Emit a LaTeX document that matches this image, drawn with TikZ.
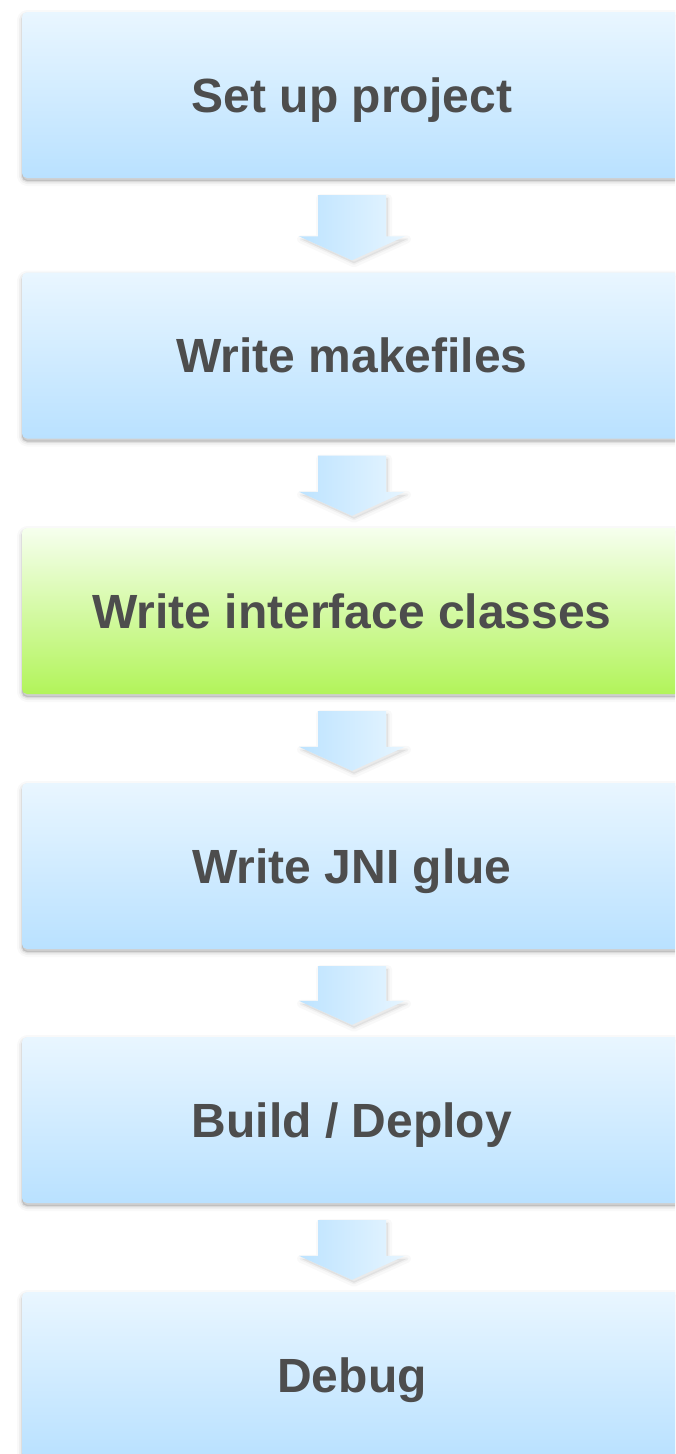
\documentclass[tikz,border=0pt]{standalone}
\usepackage{fontspec}
\setmainfont{Liberation Sans}
\usetikzlibrary{calc,shadows}
\definecolor{txt}{HTML}{4D4D4D}
\definecolor{btop}{HTML}{E9F6FF}
\definecolor{bmid}{HTML}{D8EFFF}
\definecolor{bbot}{HTML}{B9E1FF}
\definecolor{gtop}{HTML}{F6FFEE}
\definecolor{gmid}{HTML}{E2FAC8}
\definecolor{gbot}{HTML}{B2F45A}
\definecolor{aleft}{HTML}{BDE3FF}
\definecolor{aright}{HTML}{E6F5FF}
\tikzset{
  softshadow/.style={
    general shadow={fill=black, draw=black, line join=round, opacity=0.025, line width=10pt, shadow yshift=-3pt},
    general shadow={fill=black, draw=black, line join=round, opacity=0.04, line width=6pt, shadow yshift=-3pt},
    general shadow={fill=black, draw=black, line join=round, opacity=0.07, line width=2.5pt, shadow yshift=-3pt}
  },
  arrowshadow/.style={
    general shadow={fill=black, draw=black, line join=round, opacity=0.025, line width=8pt, shadow xshift=2pt, shadow yshift=-3pt},
    general shadow={fill=black, draw=black, line join=round, opacity=0.035, line width=3pt, shadow xshift=2pt, shadow yshift=-3pt}
  },
  stepbox/.style={softshadow, rounded corners=5pt, minimum width=660pt, minimum height=166pt,
    inner sep=0pt, text height=34.4pt, text depth=0pt, text=txt,
    font=\fontsize{48}{56}\selectfont\bfseries,
    top color=btop, middle color=bmid, bottom color=bbot},
  greenbox/.style={stepbox, top color=gtop, middle color=gmid, bottom color=gbot},
  flowarrow/.style={arrowshadow, left color=aleft, right color=aright}
}
\begin{document}
\begin{tikzpicture}[x=1pt,y=-1pt]
\useasboundingbox (0,0) rectangle (675,1454);
\clip (0,0) rectangle (675,1454);
\fill[white] (0,0) rectangle (675,1454);
\node[stepbox]  (b1) at (352,95)   {Set up project};
\node[stepbox]  (b2) at (352,355.5)  {Write makefiles};
\node[greenbox] (b3) at (352,611)  {Write interface classes};
\node[stepbox]  (b4) at (352,866)  {Write JNI glue};
\node[stepbox]  (b5) at (352,1120) {Build / Deploy};
\node[stepbox]  (b6) at (352,1375) {Debug};
\foreach \a/\b in {b1/b2,b2/b3,b3/b4,b4/b5,b5/b6}{
  \path[flowarrow]
    ($(\a.south)+(-34,17)$)
    -- ($(\a.south)+(34,17)$)
    -- ($(\b.north)+(34,-36)$)
    -- ($(\b.north)+(53,-36)$)
    -- ($(\b.north)+(0,-12)$)
    -- ($(\b.north)+(-53,-36)$)
    -- ($(\b.north)+(-34,-36)$)
    -- cycle;
}
\end{tikzpicture}
\end{document}
